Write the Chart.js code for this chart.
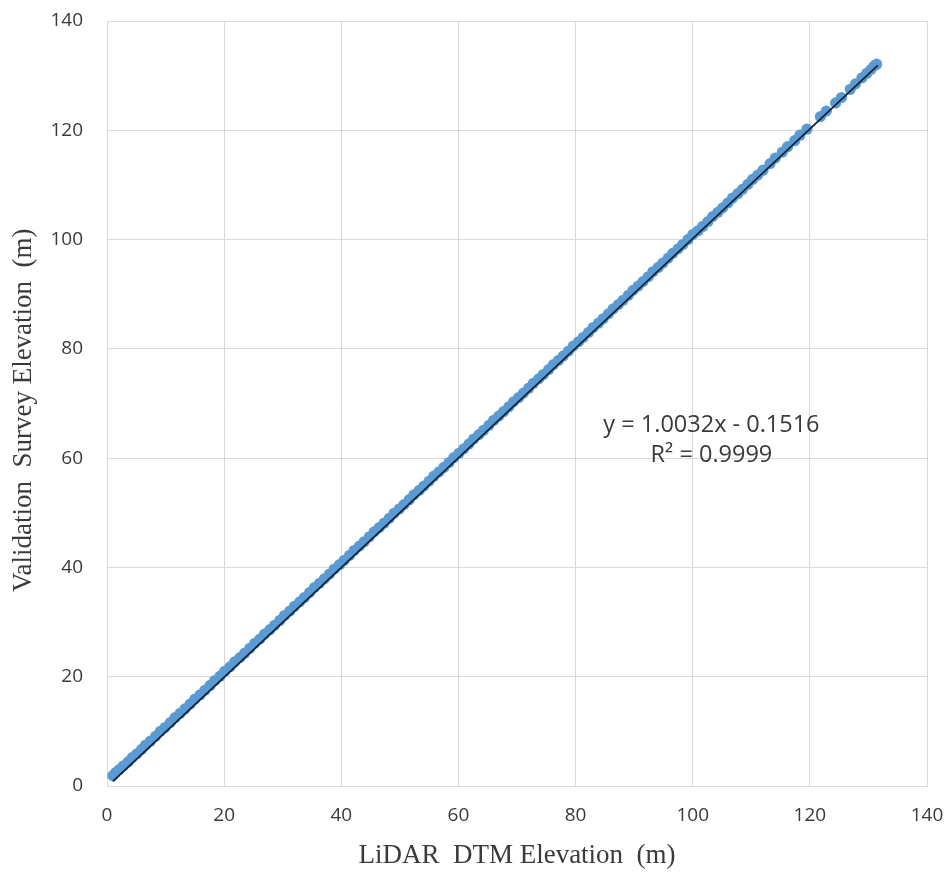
<!DOCTYPE html>
<html>
<head>
<meta charset="utf-8">
<script src="https://cdn.jsdelivr.net/npm/chart.js@4"></script>
<style>
  html, body { margin: 0; padding: 0; background: #fff; }
  #wrap { width: 949px; height: 872px; }
</style>
</head>
<body>
<div id="wrap"><canvas id="chart" width="949" height="872"></canvas></div>
<script>
// LiDAR DTM elevation vs validation survey elevation (m)
const lidarX = [
  1.0, 1.5, 2.1, 2.8, 3.6, 4.3, 5.1, 5.9, 6.6, 7.4, 8.3, 9.1, 9.9, 10.8, 11.6, 12.5, 13.3, 14.2, 15.0, 15.9,
  16.7, 17.6, 18.4, 19.3, 20.1, 21.0, 21.8, 22.7, 23.5, 24.4, 25.2, 26.1, 26.9, 27.8, 28.6, 29.5, 30.3, 31.2, 32.0, 32.9,
  33.7, 34.6, 35.4, 36.3, 37.1, 38.0, 38.8, 39.7, 40.5, 41.4, 42.2, 43.1, 43.9, 44.8, 45.6, 46.5, 47.3, 48.2, 49.0, 49.9,
  50.7, 51.6, 52.4, 53.3, 54.1, 55.0, 55.8, 56.7, 57.5, 58.4, 59.2, 60.1, 60.9, 61.8, 62.6, 63.5, 64.3, 65.2, 66.0, 66.9,
  67.7, 68.6, 69.4, 70.3, 71.1, 72.0, 72.8, 73.7, 74.5, 75.4, 76.2, 77.1, 77.9, 78.8, 79.6, 80.5, 81.3, 82.2, 83.0, 83.9,
  84.7, 85.6, 86.4, 87.3, 88.1, 89.0, 89.8, 90.7, 91.5, 92.4, 93.2, 94.1, 94.9, 95.8, 96.6, 97.5, 98.3, 99.2, 100.0, 100.9,
  101.7, 102.6, 103.4, 104.3, 105.1, 106.0, 106.8, 107.7, 108.5, 109.4, 110.2, 111.1, 112.0, 113.2, 114.1, 115.3, 116.2, 117.4, 118.3, 119.5,
  121.8, 122.8, 124.4, 125.4, 126.9, 127.8, 128.9, 129.7, 130.4, 131.0, 131.4
];
const surveyY = [
  1.9, 2.5, 3.0, 3.7, 4.4, 5.2, 5.9, 6.7, 7.5, 8.2, 9.1, 10.0, 10.7, 11.6, 12.5, 13.3, 14.1, 15.0, 15.9, 16.7,
  17.5, 18.4, 19.3, 20.1, 21.0, 21.8, 22.7, 23.5, 24.3, 25.2, 26.1, 26.9, 27.8, 28.6, 29.4, 30.3, 31.2, 32.0, 32.9, 33.7,
  34.5, 35.4, 36.3, 37.1, 37.9, 38.8, 39.7, 40.5, 41.3, 42.2, 43.1, 43.9, 44.7, 45.6, 46.5, 47.3, 48.1, 49.0, 49.9, 50.7,
  51.5, 52.4, 53.3, 54.1, 54.9, 55.8, 56.7, 57.5, 58.3, 59.2, 60.1, 60.9, 61.7, 62.6, 63.5, 64.3, 65.1, 66.0, 66.9, 67.7,
  68.5, 69.4, 70.3, 71.1, 71.9, 72.8, 73.7, 74.5, 75.3, 76.2, 77.1, 77.9, 78.7, 79.6, 80.5, 81.3, 82.1, 83.0, 83.9, 84.7,
  85.5, 86.4, 87.3, 88.1, 88.9, 89.8, 90.7, 91.5, 92.3, 93.2, 94.1, 94.9, 95.7, 96.6, 97.5, 98.3, 99.1, 100.0, 100.9, 101.6,
  102.4, 103.3, 104.2, 105.0, 105.8, 106.7, 107.6, 108.4, 109.2, 110.1, 111.0, 111.8, 112.7, 113.9, 114.9, 116.0, 117.0, 118.1, 119.1, 120.2,
  122.5, 123.5, 125.0, 126.0, 127.5, 128.5, 129.6, 130.4, 131.1, 131.8, 132.1
];

// linear trendline end points (y = 1.0032x - 0.1516)
const trendX = [1.0, 131.6];
const trendY = [0.85, 131.87];

const axisTicks = [0, 20, 40, 60, 80, 100, 120, 140];
const equationLines = ["y = 1.0032x - 0.1516", "R\u00b2 = 0.9999"];

const points = lidarX.map((x, i) => ({ x: x, y: surveyY[i] }));
const trend = trendX.map((x, i) => ({ x: x, y: trendY[i] }));

// Trendline equation label, placed in data coordinates
const equationLabel = {
    id: "equationLabel",
    afterDatasetsDraw(chart) {
        const ctx = chart.ctx;
        const cx = chart.scales.x.getPixelForValue(103.2);
        const cy = chart.scales.y.getPixelForValue(66.0);
        ctx.save();
        ctx.font = '23.5px "Open Sans"';
        ctx.fillStyle = "#3a3a3a";
        ctx.textAlign = "center";
        ctx.textBaseline = "middle";
        equationLines.forEach((line, i) => {
            ctx.fillText(line, cx, cy + i * 30);
        });
        ctx.restore();
    },
};

const tickFont = { family: "Open Sans", size: 19 };
const titleFont = { family: "Liberation Serif", size: 27 };

// keep the plot box fixed, like the original
function fixBox(scale, size) {
    if (scale.isHorizontal()) scale.height = size;
    else scale.width = size;
    scale.paddingTop = 0;
    scale.paddingBottom = 0;
    scale.paddingLeft = 0;
    scale.paddingRight = 0;
}

new Chart(document.getElementById("chart"), {
    type: "scatter",
    data: {
        datasets: [
            {
                label: "Trendline",
                type: "line",
                data: trend,
                borderColor: "#17222e",
                borderWidth: 1.8,
                pointRadius: 0,
                fill: false,
                order: 0,
            },
            {
                label: "Survey points",
                data: points,
                backgroundColor: "#5b9bd5",
                borderColor: "#5b9bd5",
                borderWidth: 0,
                pointRadius: 5.6,
                order: 1,
            },
        ],
    },
    options: {
        responsive: false,
        animation: false,
        layout: { padding: { top: 21, right: 22, left: 0, bottom: 0 } },
        plugins: {
            legend: { display: false },
            tooltip: { enabled: false },
        },
        scales: {
            x: {
                type: "linear",
                min: 0,
                max: 140,
                afterBuildTicks: (scale) => { scale.ticks = axisTicks.map((v) => ({ value: v })); },
                afterFit: (scale) => fixBox(scale, 86),
                ticks: { font: tickFont, color: "#3a3a3a", padding: 18 },
                grid: { color: "#d9d9d9", lineWidth: 1, drawTicks: false },
                border: { color: "#d9d9d9" },
                title: {
                    display: true,
                    text: "LiDAR  DTM Elevation  (m)",
                    font: titleFont,
                    color: "#3a3a3a",
                    padding: { top: 0, bottom: 0 },
                },
            },
            y: {
                type: "linear",
                min: 0,
                max: 140,
                afterBuildTicks: (scale) => { scale.ticks = axisTicks.map((v) => ({ value: v })); },
                afterFit: (scale) => fixBox(scale, 107),
                ticks: { font: tickFont, color: "#3a3a3a", padding: 24 },
                grid: { color: "#d9d9d9", lineWidth: 1, drawTicks: false },
                border: { color: "#d9d9d9" },
                title: {
                    display: true,
                    text: "Validation  Survey Elevation  (m)  ",
                    font: titleFont,
                    color: "#3a3a3a",
                    padding: { top: 8, bottom: 0 },
                },
            },
        },
    },
    plugins: [equationLabel],
});
</script>
</body>
</html>
